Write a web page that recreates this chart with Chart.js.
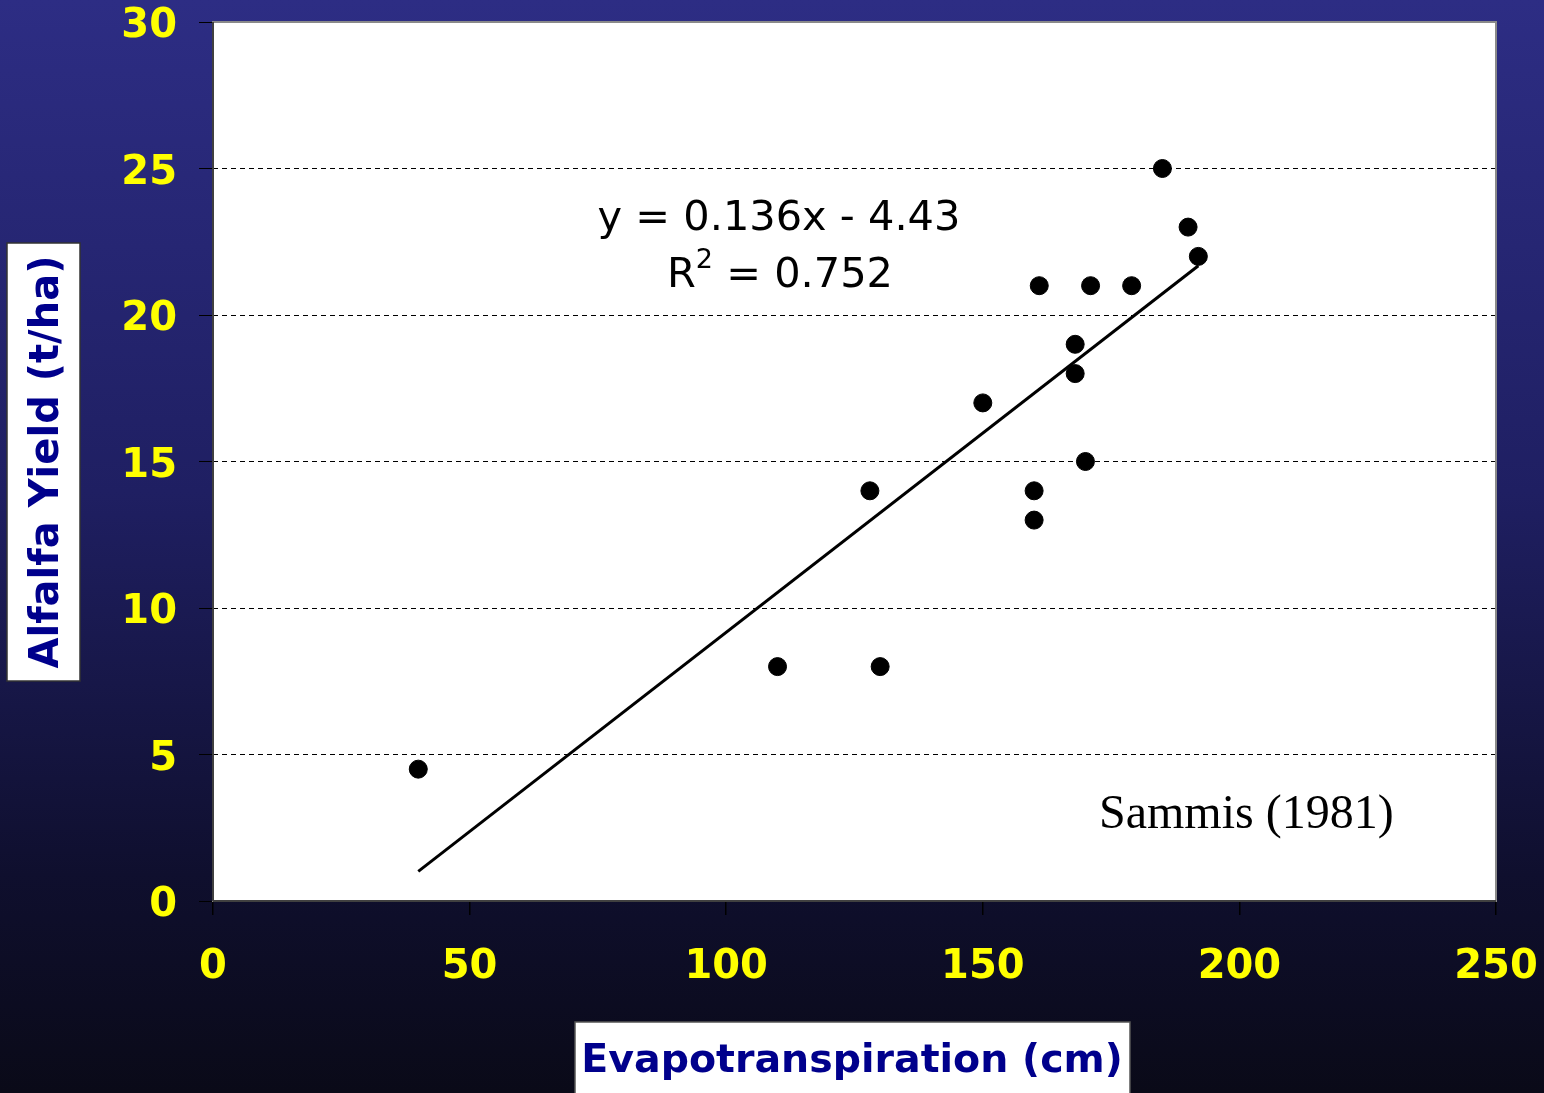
<!DOCTYPE html>
<html>
<head>
<meta charset="utf-8">
<script src="https://cdn.jsdelivr.net/npm/chart.js@4.4.0/dist/chart.umd.min.js"></script>
<style>
  html, body { margin: 0; padding: 0; background: #0a0a1a; }
  #wrap { width: 1544px; height: 1093px; position: relative; }
</style>
</head>
<body>
<div id="wrap"><canvas id="etChart" width="1544" height="1093"></canvas></div>
<script>
// 측정 데이터 (Sammis 1981)
const etValues = [40, 110, 130, 128, 150, 160, 160, 161, 168, 168, 170, 171, 179, 185, 190, 192];
const yieldValues = [4.5, 8, 8, 14, 17, 14, 13, 21, 19, 18, 15, 21, 21, 25, 23, 22];

// 회귀선 양 끝점 (y = 0.136x - 4.43)
const trendX = [40, 192];
const trendY = [1.01, 21.68];

const xTicks = [0, 50, 100, 150, 200, 250];
const yTicks = [0, 5, 10, 15, 20, 25, 30];

const eqLine1 = 'y = 0.136x - 4.43';
const eqLine2a = 'R';
const eqLine2b = '2';
const eqLine2c = ' = 0.752';
const sourceText = 'Sammis (1981)';
const xTitle = 'Evapotranspiration (cm)';
const yTitle = 'Alfalfa Yield (t/ha)';

const navy = '#00008c';
const yellow = '#ffff00';

// 배경 + 흰색 플롯 영역
const backdrop = {
    id: 'backdrop',
    beforeDraw(chart) {
        const { ctx, chartArea: a, width, height } = chart;
        ctx.save();
        const g = ctx.createLinearGradient(0, 0, 0, height);
        g.addColorStop(0, '#2d2d84');
        g.addColorStop(0.45, '#1f1f62');
        g.addColorStop(0.8, '#0f0f2e');
        g.addColorStop(1, '#0a0a18');
        ctx.fillStyle = g;
        ctx.fillRect(0, 0, width, height);
        ctx.fillStyle = '#ffffff';
        ctx.fillRect(a.left, a.top, a.right - a.left, a.bottom - a.top);
        ctx.restore();
    }
};

// 테두리, 주석, 축 제목
const overlay = {
    id: 'overlay',
    afterDraw(chart) {
        const { ctx, chartArea: a } = chart;
        ctx.save();
        // plot frame
        ctx.strokeStyle = '#8a8a8a';
        ctx.lineWidth = 2;
        ctx.strokeRect(a.left, a.top, a.right - a.left, a.bottom - a.top);
        ctx.strokeStyle = '#404040';
        ctx.beginPath();
        ctx.moveTo(a.left, a.bottom);
        ctx.lineTo(a.right, a.bottom);
        ctx.moveTo(a.left, a.top);
        ctx.lineTo(a.left, a.bottom);
        ctx.stroke();

        // equation
        ctx.fillStyle = '#000000';
        ctx.textBaseline = 'alphabetic';
        ctx.textAlign = 'center';
        ctx.font = '41.5px "DejaVu Sans"';
        ctx.fillText(eqLine1, 779, 230);
        const wA = ctx.measureText(eqLine2a).width;
        const wC = ctx.measureText(eqLine2c).width;
        ctx.font = '27px "DejaVu Sans"';
        const wB = ctx.measureText(eqLine2b).width;
        let x0 = 780 - (wA + wB + wC) / 2;
        ctx.textAlign = 'left';
        ctx.font = '41.5px "DejaVu Sans"';
        ctx.fillText(eqLine2a, x0, 287);
        ctx.font = '27px "DejaVu Sans"';
        ctx.fillText(eqLine2b, x0 + wA, 268);
        ctx.font = '41.5px "DejaVu Sans"';
        ctx.fillText(eqLine2c, x0 + wA + wB, 287);

        // source
        ctx.font = '48px "Liberation Serif"';
        ctx.textAlign = 'left';
        ctx.fillText(sourceText, 1099, 828);

        // x title box
        ctx.fillStyle = '#ffffff';
        ctx.fillRect(575, 1022, 555, 80);
        ctx.strokeStyle = '#555555';
        ctx.lineWidth = 1.5;
        ctx.strokeRect(575, 1022, 555, 80);
        ctx.fillStyle = navy;
        ctx.font = 'bold 39.5px "DejaVu Sans"';
        ctx.textAlign = 'center';
        ctx.fillText(xTitle, 852, 1072);

        // y title box
        ctx.fillStyle = '#ffffff';
        ctx.fillRect(7, 243, 73, 438);
        ctx.strokeStyle = '#333333';
        ctx.strokeRect(7, 243, 73, 438);
        ctx.translate(58, 462);
        ctx.rotate(-Math.PI / 2);
        ctx.fillStyle = navy;
        ctx.font = 'bold 40px "DejaVu Sans"';
        ctx.fillText(yTitle, 0, 0);
        ctx.restore();
    }
};

const xTickFont = { family: '"DejaVu Sans"', size: 40, weight: 'bold', lineHeight: 1.0 };
// 두 줄 라벨(빈 줄 + 숫자)로 y 라벨을 5px 아래로 내림
const yTickFont = { family: '"DejaVu Sans"', size: 40, weight: 'bold', lineHeight: 0.25 };

new Chart(document.getElementById('etChart').getContext('2d'), {
    type: 'scatter',
    data: {
        datasets: [
            {
                label: 'Yield',
                data: etValues.map((x, i) => ({ x: x, y: yieldValues[i] })),
                backgroundColor: '#000000',
                borderColor: '#000000',
                pointRadius: 9,
                pointHoverRadius: 9,
                order: 1
            },
            {
                label: 'Linear',
                type: 'line',
                data: trendX.map((x, i) => ({ x: x, y: trendY[i] })),
                borderColor: '#000000',
                borderWidth: 3,
                pointRadius: 0,
                fill: false,
                order: 2
            }
        ]
    },
    options: {
        responsive: false,
        animation: false,
        layout: { padding: { left: 0, top: 22, right: 48, bottom: 0 } },
        plugins: { legend: { display: false }, tooltip: { enabled: false } },
        scales: {
            x: {
                type: 'linear',
                min: 0, max: 250,
                afterBuildTicks: s => { s.ticks = xTicks.map(v => ({ value: v })); },
                afterFit: s => { s.height = 192; s.paddingLeft = 0; s.paddingRight = 0; },
                grid: { drawOnChartArea: false, drawTicks: true, tickLength: 14, color: '#000000', lineWidth: 1.5 },
                border: { display: false },
                ticks: { color: yellow, font: xTickFont, padding: 33, maxRotation: 0 }
            },
            y: {
                type: 'linear',
                min: 0, max: 30,
                afterBuildTicks: s => { s.ticks = yTicks.map(v => ({ value: v })); },
                afterFit: s => { s.width = 213; s.paddingTop = 0; s.paddingBottom = 0; },
                grid: { drawOnChartArea: true, drawTicks: true, tickLength: 14, color: '#000000', lineWidth: 1, tickBorderDash: [] },
                border: { display: false, dash: [5, 4] },
                ticks: { color: yellow, font: yTickFont, padding: 22, callback: v => ['', String(v)] }
            }
        }
    },
    plugins: [backdrop, overlay]
});
</script>
</body>
</html>
